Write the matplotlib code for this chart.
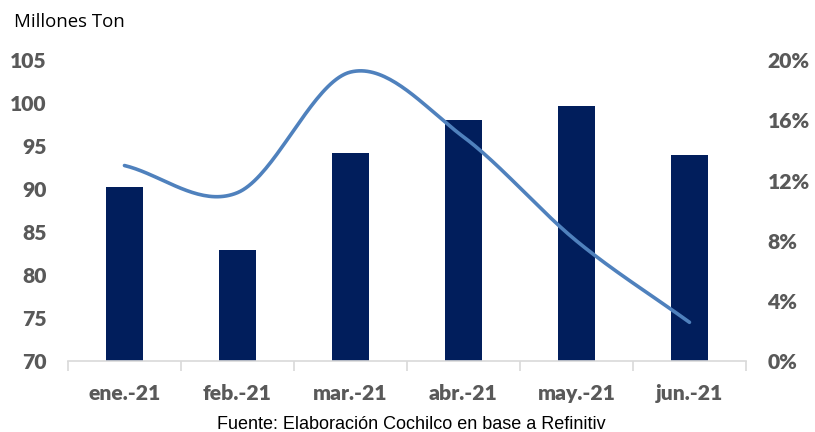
import numpy as np
import matplotlib
matplotlib.use("Agg")
import matplotlib.pyplot as plt
from matplotlib.ticker import FixedLocator, FuncFormatter

months = ["ene.-21", "feb.-21", "mar.-21", "abr.-21", "may.-21", "jun.-21"]
production = [90.3, 83.0, 94.2, 98.0, 99.7, 94.0]      # millones de toneladas
growth_pct = [13.0, 11.2, 19.2, 14.9, 8.0, 2.6]         # variación, %

BAR_COLOR = "#011E5C"
LINE_COLOR = "#4F81BD"
TEXT_COLOR = "#595959"
TICK_FONT = dict(family="Lato", weight="heavy", size=15.2)


def catmull_rom(xs, ys, n=40):
    """Smooth curve through the points, like a spreadsheet's smoothed line."""
    xs = np.asarray(xs, float)
    ys = np.asarray(ys, float)
    px = np.concatenate([[2 * xs[0] - xs[1]], xs, [2 * xs[-1] - xs[-2]]])
    py = np.concatenate([[2 * ys[0] - ys[1]], ys, [2 * ys[-1] - ys[-2]]])
    out_x, out_y = [], []
    for i in range(1, len(px) - 2):
        t = np.linspace(0, 1, n, endpoint=(i == len(px) - 3))
        for arr, p in ((out_x, px), (out_y, py)):
            p0, p1, p2, p3 = p[i - 1], p[i], p[i + 1], p[i + 2]
            arr.extend(0.5 * ((2 * p1) + (-p0 + p2) * t
                              + (2 * p0 - 5 * p1 + 4 * p2 - p3) * t ** 2
                              + (-p0 + 3 * p1 - 3 * p2 + p3) * t ** 3))
    return np.array(out_x), np.array(out_y)


def style_labels(labels):
    for lbl in labels:
        lbl.set_fontfamily(TICK_FONT["family"])
        lbl.set_fontweight(TICK_FONT["weight"])
        lbl.set_fontsize(TICK_FONT["size"])
        lbl.set_color(TEXT_COLOR)


fig = plt.figure(figsize=(8.15, 4.32), dpi=100)
ax = fig.add_axes([0.0834, 0.1632, 0.8319, 0.6979])

x = np.arange(len(months))
ax.bar(x, production, width=0.32, color=BAR_COLOR, zorder=2)

ax.set_xlim(-0.5, len(months) - 0.5)
ax.set_ylim(70, 105)
ax.set_yticks(np.arange(70, 106, 5))

for side in ("top", "right", "left"):
    ax.spines[side].set_visible(False)
ax.spines["bottom"].set_color("#D9D9D9")
ax.spines["bottom"].set_linewidth(1.2)

# category boundaries carry the tick marks, centres carry the labels
ax.xaxis.set_major_locator(FixedLocator(np.arange(-0.5, len(months), 1.0)))
ax.xaxis.set_major_formatter(FuncFormatter(lambda v, p: ""))
ax.xaxis.set_minor_locator(FixedLocator(x))
ax.set_xticklabels(months, minor=True)
ax.tick_params(axis="x", which="major", length=7, width=1.2, color="#D9D9D9", direction="out")
ax.tick_params(axis="x", which="minor", length=0, pad=16.5)
ax.tick_params(axis="y", length=0, pad=15.5)
style_labels(ax.get_xticklabels(minor=True) + ax.get_yticklabels())

ax2 = ax.twinx()
sx, sy = catmull_rom(x, growth_pct)
ax2.plot(sx, sy, color=LINE_COLOR, linewidth=2.6, solid_capstyle="round", zorder=3)
ax2.set_ylim(0, 20)
ax2.set_yticks(np.arange(0, 21, 4))
ax2.yaxis.set_major_formatter(FuncFormatter(lambda v, p: f"{v:.0f}%"))
for side in ("top", "right", "left", "bottom"):
    ax2.spines[side].set_visible(False)
ax2.tick_params(axis="y", length=0, pad=15.5)
style_labels(ax2.get_yticklabels())

fig.text(0.017, 0.949, "Millones Ton", fontfamily="Open Sans", fontsize=13.4,
         color="#000000", va="center", ha="left")
fig.text(0.505, 0.0185, "Fuente: Elaboración Cochilco en base a Refinitiv",
         fontfamily="Liberation Sans", fontsize=13.0, color="#000000",
         ha="center", va="center")

fig.savefig("out.png", dpi=100)
